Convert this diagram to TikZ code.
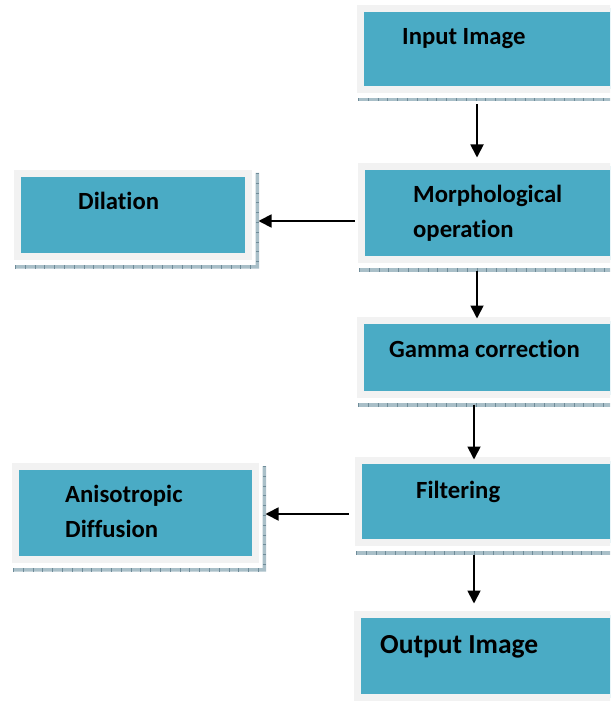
\documentclass[tikz,border=0pt]{standalone}
\usepackage{fontspec}
\setmainfont{Carlito}[Ligatures=NoCommon]
\usetikzlibrary{arrows.meta}
\definecolor{boxteal}{HTML}{4AABC5}
\definecolor{boxframe}{HTML}{F2F2F2}
\definecolor{bandfill}{HTML}{A9BFC8}
\definecolor{bandtick}{HTML}{6F8C99}
\tikzset{
  blockbox/.style={draw=boxframe, fill=boxteal, line width=7pt, inner sep=0pt},
  blocktext/.style={anchor=base west, inner sep=0pt, align=left,
    font=\bfseries\fontsize{24.7}{35}\selectfont},
  flowarrow/.style={-{Triangle[length=13pt,width=13pt]}, line width=1.8pt},
  shadowband/.style={fill=bandfill},
  shadowtick/.style={draw=bandtick, line width=3.5pt, dash pattern=on 0.8pt off 9pt},
}
\begin{document}
\begin{tikzpicture}[x=1pt,y=-1pt]
\clip (0,0) rectangle (610,703);
\fill[white] (0,0) rectangle (610,703);

% main column
\node[blockbox, minimum width=256pt, minimum height=81pt] (in) at (488.5,49) {};
\node[blockbox, minimum width=255pt, minimum height=93pt] (morph) at (489,213) {};
\node[blockbox, minimum width=256pt, minimum height=74pt] (gamma) at (488.5,357.5) {};
\node[blockbox, minimum width=258pt, minimum height=82pt] (filt) at (487.5,501.5) {};
\node[blockbox, minimum width=259pt, minimum height=83pt] (out) at (487,656) {};
% side boxes
\node[blockbox, minimum width=231pt, minimum height=83pt] (dil) at (133,215) {};
\node[blockbox, minimum width=240pt, minimum height=93pt] (aniso) at (135.5,513) {};

% shadow bands
\foreach \b in {in,morph,gamma,filt,out}{
  \fill[shadowband] ([xshift=1pt,yshift=-5pt]\b.south west) rectangle ([yshift=-8.5pt]\b.south east);
  \draw[shadowtick] ([xshift=1pt,yshift=-6.75pt]\b.south west) -- ([yshift=-6.75pt]\b.south east);
}
\foreach \b in {dil,aniso}{
  \fill[shadowband] ([xshift=1pt,yshift=-5pt]\b.south west) rectangle ([xshift=7pt,yshift=-8.5pt]\b.south east)
    ([xshift=3.5pt,yshift=-3pt]\b.north east) rectangle ([xshift=7pt,yshift=-8.5pt]\b.south east);
  \draw[shadowtick] ([xshift=1pt,yshift=-6.75pt]\b.south west) -- ([xshift=7pt,yshift=-6.75pt]\b.south east);
  \draw[shadowtick] ([xshift=5.25pt,yshift=-3pt]\b.north east) -- ([xshift=5.25pt,yshift=-5pt]\b.south east);
}

% labels
\node[blocktext] (in-t) at (402,45) {Input Image};
\node[blocktext] (morph-t) at (413,237) {Morphological\\operation};
\node[blocktext] (gamma-t) at (389,357) {Gamma correction};
\node[blocktext] (filt-t) at (416,498) {Filtering};
\node[blocktext, font=\bfseries\fontsize{27.5}{35}\selectfont] (out-t) at (380,653) {Output Image};
\node[blocktext] (dil-t) at (78,210) {Dilation};
\node[blocktext] (aniso-t) at (65,537) {Anisotropic\\Diffusion};

% arrows
\draw[flowarrow, shorten <=11.5pt, shorten >=5.5pt] ([xshift=-11.5pt]in.south) -- ([xshift=-11.5pt]in.south |- morph.north);
\draw[flowarrow, shorten <=7.5pt, shorten >=-1.5pt] ([xshift=-12pt]morph.south) -- ([xshift=-12pt]morph.south |- gamma.north);
\draw[flowarrow, shorten <=6.5pt, shorten >=-2.5pt] ([xshift=-14.5pt]gamma.south) -- ([xshift=-14.5pt]gamma.south |- filt.north);
\draw[flowarrow, shorten <=8.5pt, shorten >=7.5pt] ([xshift=-13.5pt]filt.south) -- ([xshift=-13.5pt]filt.south |- out.north);
\draw[flowarrow, shorten <=3.5pt, shorten >=6.5pt] ([yshift=-8pt]morph.west) -- ([yshift=-8pt]morph.west -| dil.east);
\draw[flowarrow, shorten <=6.5pt, shorten >=6.5pt] ([yshift=-12.5pt]filt.west) -- ([yshift=-12.5pt]filt.west -| aniso.east);
\end{tikzpicture}
\end{document}
